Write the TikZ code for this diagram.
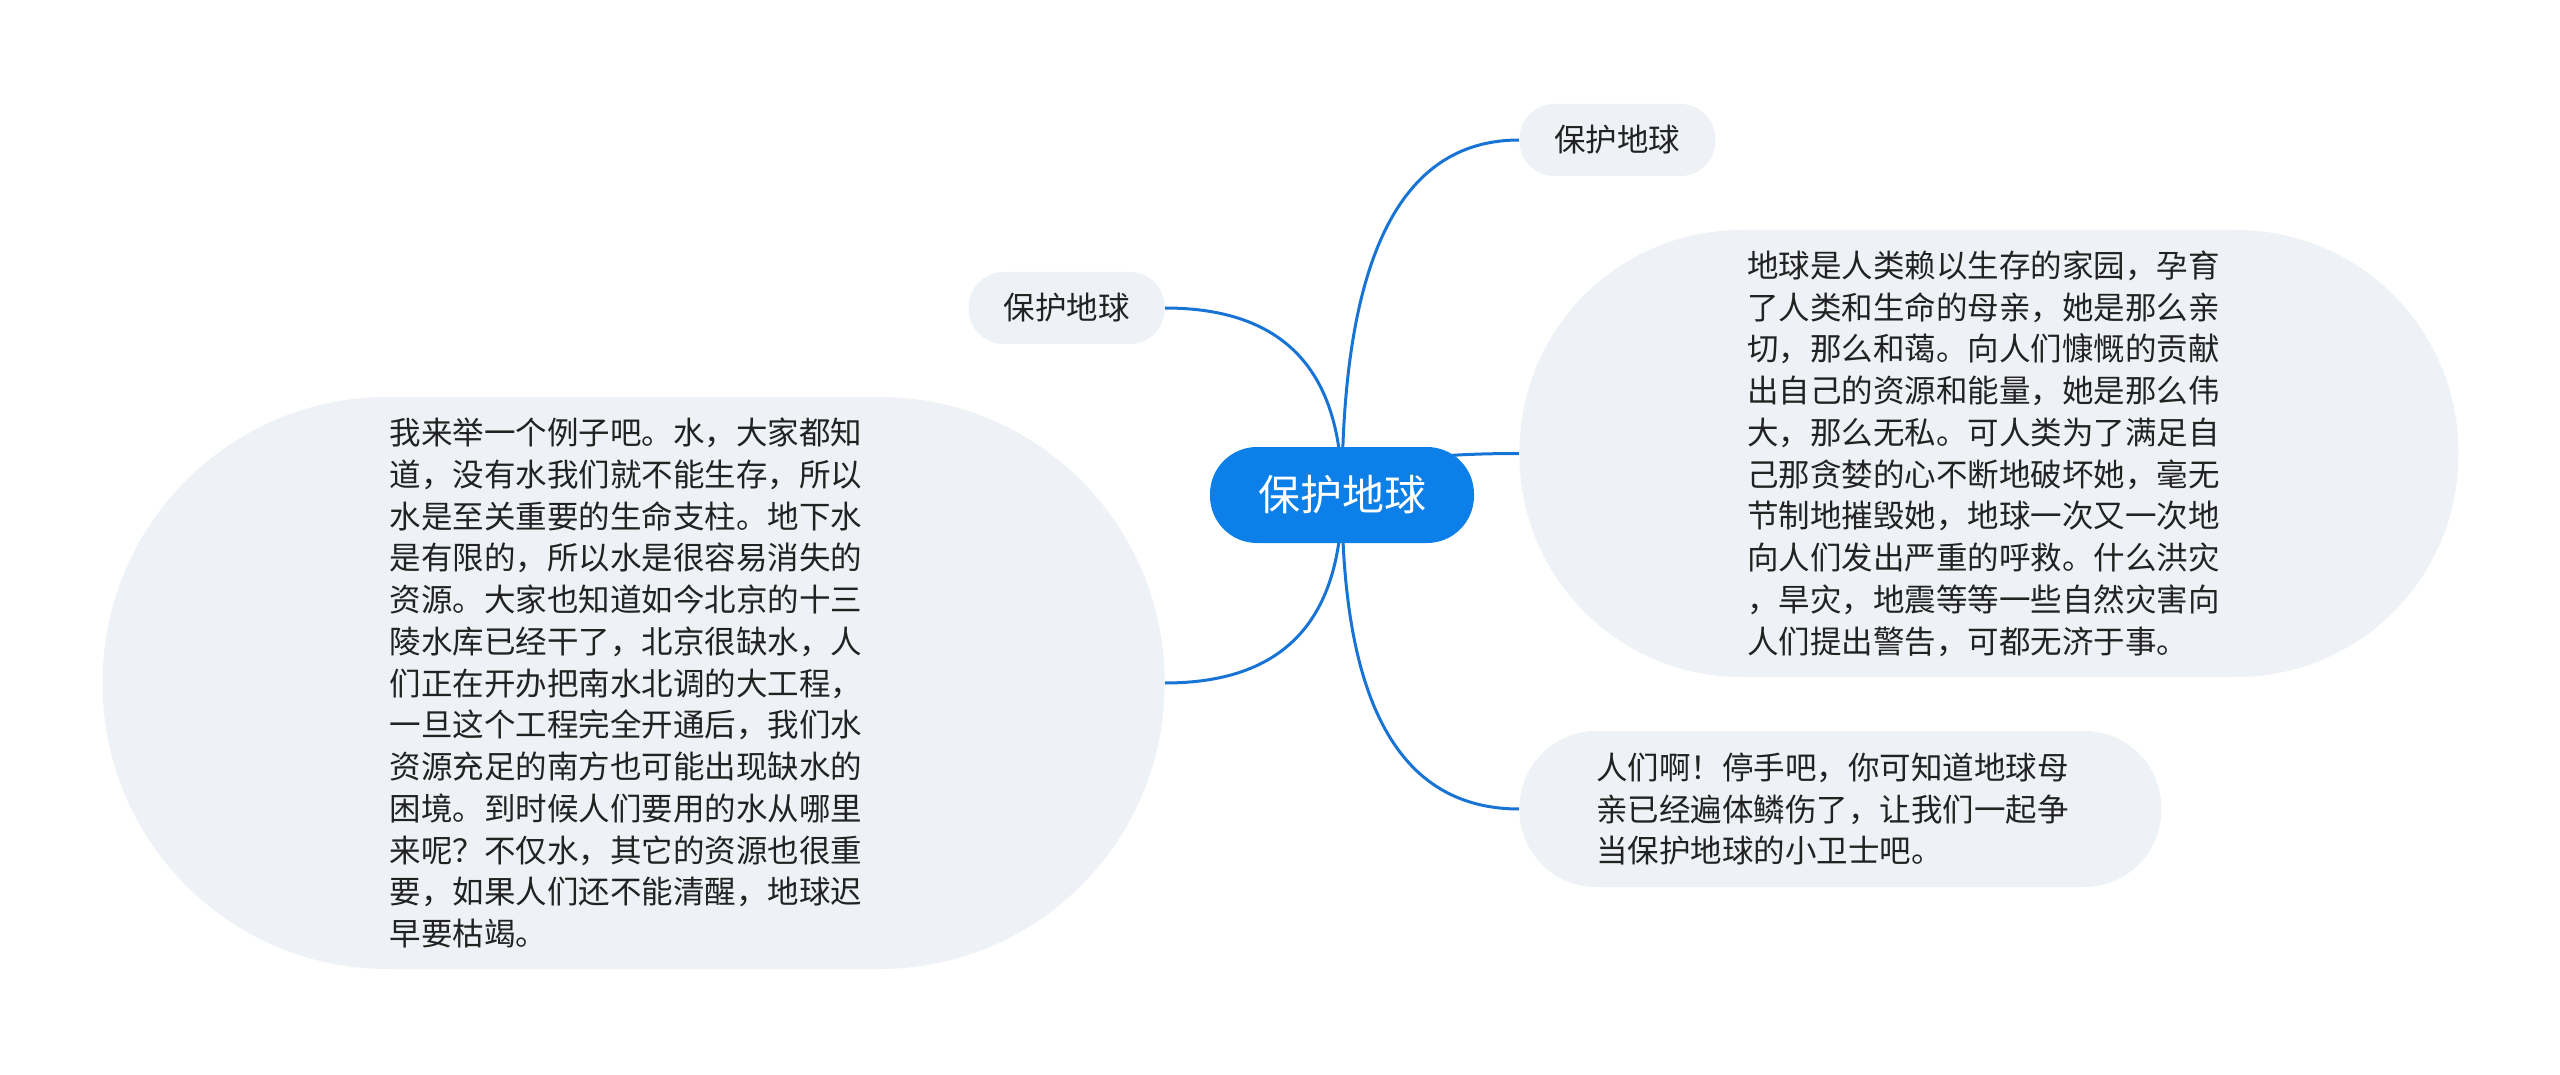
\documentclass[tikz,border=0pt]{standalone}
\usepackage{fontspec}
\setmainfont{Noto Sans CJK SC}
\usepackage{xcolor}
\usepackage{tikz}
\usetikzlibrary{positioning,calc,backgrounds}

\definecolor{rootblue}{RGB}{12,128,232}
\definecolor{linkblue}{RGB}{24,116,212}
\definecolor{leafgrey}{RGB}{238,241,245}
\definecolor{inktext}{RGB}{34,34,34}

\begin{document}
\begin{tikzpicture}[
    x=1pt, y=-1pt,
    node distance=45pt,
    root/.style={fill=rootblue, text=white, rounded corners=47pt, minimum width=264pt, minimum height=96pt, inner sep=0pt, font=\fontsize{42}{50}\selectfont},
    leaf/.style={fill=leafgrey, text=inktext, inner sep=0pt, font=\fontsize{31.5}{41.75}\selectfont},
    tag/.style={leaf, rounded corners=35pt, minimum width=196pt, minimum height=72pt},
    link/.style={draw=linkblue, line width=3pt}
]
\useasboundingbox (0,0) rectangle (2560,1075);

\node[root] (root) at (1342,495) {保护地球};

\node[tag, right=of root, yshift=355pt] (topleaf) {保护地球};
\node[leaf, right=of root, yshift=41.5pt, minimum width=939pt, minimum height=447pt, rounded corners=222pt, text width=483pt, align=left] (earth) {地球是人类赖以生存的家园，孕育\\了人类和生命的母亲，她是那么亲\\切，那么和蔼。向人们慷慨的贡献\\出自己的资源和能量，她是那么伟\\大，那么无私。可人类为了满足自\\己那贪婪的心不断地破坏她，毫无\\节制地摧毁她，地球一次又一次地\\向人们发出严重的呼救。什么洪灾\\，旱灾，地震等等一些自然灾害向\\人们提出警告，可都无济于事。};
\node[leaf, right=of root, yshift=-314pt, minimum width=642pt, minimum height=156pt, rounded corners=77pt, text width=488pt, align=left] (plea) {人们啊！停手吧，你可知道地球母\\亲已经遍体鳞伤了，让我们一起争\\当保护地球的小卫士吧。};

\node[tag, left=of root, yshift=187pt] (leftleaf) {保护地球};
\node[leaf, left=of root, yshift=-188pt, minimum width=1062pt, minimum height=572pt, rounded corners=285pt, text width=488pt, align=left] (water) {我来举一个例子吧。水，大家都知\\道，没有水我们就不能生存，所以\\水是至关重要的生命支柱。地下水\\是有限的，所以水是很容易消失的\\资源。大家也知道如今北京的十三\\陵水库已经干了，北京很缺水，人\\们正在开办把南水北调的大工程，\\一旦这个工程完全开通后，我们水\\资源充足的南方也可能出现缺水的\\困境。到时候人们要用的水从哪里\\来呢？不仅水，其它的资源也很重\\要，如果人们还不能清醒，地球迟\\早要枯竭。};

\begin{scope}[on background layer]
\foreach \kid/\side in {topleaf/west, earth/west, plea/west, leftleaf/east, water/east}
  \draw[link] (root.center) .. controls ($(root.center)!0.66!(root.center |- \kid.\side)$) and ($(\kid.\side)!0.68!(root.center |- \kid.\side)$) .. (\kid.\side);
\end{scope}

\end{tikzpicture}
\end{document}
